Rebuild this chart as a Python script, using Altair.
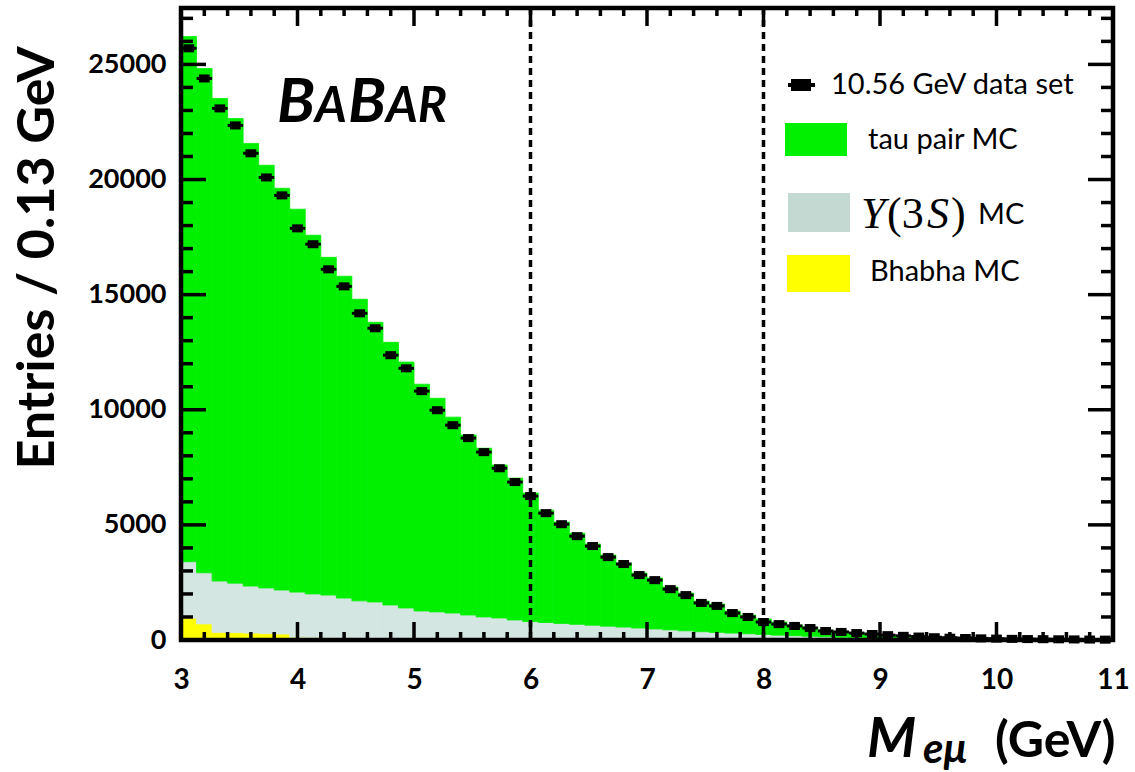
import altair as alt
import pandas as pd
import numpy as np

# ---------------- data ----------------
x_range = [3.0, 11.0]
n_bins = 60  # 0.133 GeV bins

data_counts = [25700, 24390, 23090, 22350, 21140, 20090, 19310, 17880, 17190, 16100,
               15360, 14190, 13540, 12370, 11800, 10810, 9980, 9330, 8770, 8160,
               7460, 6860, 6250, 5510, 5030, 4510, 4080, 3600, 3300, 2820,
               2600, 2210, 1950, 1610, 1480, 1170, 1000, 780, 690, 610,
               520, 390, 350, 300, 260, 210, 180, 150, 120, 100,
               85, 70, 60, 50, 40, 35, 30, 25, 20, 15]

tau_mc = [22810, 21900, 20960, 20180, 19230, 18360, 17450, 16630, 15580, 14670,
          13980, 13100, 12150, 11410, 10680, 9850, 9280, 8510, 7815, 7330,
          6645, 6160, 5580, 4880, 4400, 3960, 3530, 3090, 2780, 2390,
          2210, 1860, 1640, 1330, 1230, 960, 815, 670, 570, 465,
          400, 290, 250, 210, 185, 150, 125, 105, 83, 70,
          60, 50, 42, 36, 29, 26, 22, 19, 15, 11]

upsilon_mc = [2450, 2220, 2230, 2150, 2040, 1980, 1910, 1960, 1890, 1850,
              1730, 1615, 1570, 1445, 1320, 1195, 1160, 1115, 1035, 955,
              915, 834, 768, 730, 692, 654, 616, 578, 540, 502,
              464, 425, 386, 347, 318, 289, 260, 231, 202, 178,
              154, 134, 115, 95, 81, 66, 57, 47, 39, 33,
              28, 23, 18, 15, 12, 9, 7, 5, 4, 3]

bhabha_mc = [950, 700, 330, 320, 300, 280, 260, 120, 110, 100,
             90, 85, 80, 75, 70, 65, 60, 55, 50, 45,
             40, 36, 32, 30, 28, 26, 24, 22, 20, 18,
             16, 15, 14, 13, 12, 11, 10, 9, 8, 7,
             6, 6, 5, 5, 4, 4, 3, 3, 3, 2,
             2, 2, 2, 1, 1, 1, 1, 1, 1, 1]

x_tick_labels = [3, 4, 5, 6, 7, 8, 9, 10, 11]
y_tick_labels = [0, 5000, 10000, 15000, 20000, 25000]
x_major_ticks = [4, 5, 6, 7, 8, 9, 10]
x_minor_ticks = [round(3 + 0.2 * k, 1) for k in range(1, 40) if k % 5 != 0]
y_major_ticks = [5000, 10000, 15000, 20000, 25000]
y_minor_ticks = [1000 * k for k in range(1, 28) if k % 5 != 0]
cut_lines = [6, 8]

legend_labels = ["10.56 GeV data set", "tau pair MC", "Bhabha MC"]

# ---------------- styling ----------------
W, H = 932, 632
Y_MAX = 27450
FONT = "Lato"
GREEN = "#00f000"
GRAY = "#d4e6e1"
GRAY_LEG = "#c5d9d3"
YELLOW = "#ffff00"

edges = np.linspace(x_range[0], x_range[1], n_bins + 1)
lo, hi = edges[:-1], edges[1:]
centers = (lo + hi) / 2

rows = []
for i in range(n_bins):
    b = bhabha_mc[i]
    u = upsilon_mc[i]
    t = tau_mc[i]
    rows.append(dict(lo=lo[i], hi=hi[i], y0=0, y1=b, comp="Bhabha"))
    rows.append(dict(lo=lo[i], hi=hi[i], y0=b, y1=b + u, comp="Upsilon"))
    rows.append(dict(lo=lo[i], hi=hi[i], y0=b + u, y1=b + u + t, comp="tau"))
stack_df = pd.DataFrame(rows)
data_df = pd.DataFrame(dict(lo=lo, hi=hi, c=centers, v=data_counts))

xs = alt.Scale(domain=x_range, nice=False, zero=False)
ys = alt.Scale(domain=[0, Y_MAX], nice=False, zero=False)

X_AXIS = alt.Axis(values=x_tick_labels, format="d", title=None, grid=False,
                  ticks=False, tickSize=0, domain=False, labelFont=FONT,
                  labelFontWeight="bold", labelFontSize=28, labelColor="black",
                  labelPadding=26, labelFlush=False, labelOverlap=False)
Y_AXIS = alt.Axis(values=y_tick_labels, format="d", title=None, grid=False,
                  ticks=False, tickSize=0, domain=False, labelFont=FONT,
                  labelFontWeight="bold", labelFontSize=27, labelColor="black",
                  labelPadding=15, labelOverlap=False, labelFlush=False)


def X(field):
    return alt.X(field, scale=xs, axis=X_AXIS, title=None)


def Y(field):
    return alt.Y(field, scale=ys, axis=Y_AXIS, title=None)


comp_scale = alt.Scale(domain=["Bhabha", "Upsilon", "tau"], range=[YELLOW, GRAY, GREEN])
hist = alt.Chart(stack_df).mark_rect(strokeWidth=0.8).encode(
    x=X("lo:Q"), x2="hi:Q",
    y=Y("y0:Q"), y2="y1:Q",
    color=alt.Color("comp:N", scale=comp_scale, legend=None),
    stroke=alt.Stroke("comp:N", scale=comp_scale, legend=None),
)

err = alt.Chart(data_df).mark_rule(color="black", strokeWidth=3).encode(
    x=X("lo:Q"), x2="hi:Q", y=Y("v:Q"))
pts = alt.Chart(data_df).mark_point(
    shape="M-1,-0.75L1,-0.75L1,0.75L-1,0.75Z", filled=True, color="black",
    opacity=1, size=115).encode(x=X("c:Q"), y=Y("v:Q"))

cuts = alt.Chart(pd.DataFrame(dict(x=cut_lines))).mark_rule(
    color="black", strokeWidth=3.5, strokeDash=[7, 5]).encode(x=X("x:Q"))


def xticks(vals, length):
    df = pd.DataFrame(dict(v=vals))
    base = alt.Chart(df).mark_rule(color="black", strokeWidth=3.5)
    b = base.encode(x=X("v:Q"), y=alt.value(H), y2=alt.value(H - length))
    t = base.encode(x=X("v:Q"), y=alt.value(0), y2=alt.value(length))
    return [b, t]


def yticks(vals, length):
    df = pd.DataFrame(dict(v=vals))
    base = alt.Chart(df).mark_rule(color="black", strokeWidth=3.5)
    l = base.encode(y=Y("v:Q"), x=alt.value(0), x2=alt.value(length))
    r = base.encode(y=Y("v:Q"), x=alt.value(W), x2=alt.value(W - length))
    return [l, r]


ticks = xticks(x_major_ticks, 18) + xticks(x_minor_ticks, 8) + \
        yticks(y_major_ticks, 25) + yticks(y_minor_ticks, 12)

one = pd.DataFrame(dict(a=[0]))
frame = alt.Chart(one).mark_rect(filled=False, stroke="black", strokeWidth=4.5).encode(
    x=alt.value(0), x2=alt.value(W), y=alt.value(0), y2=alt.value(H))


def txt(s, x, y, size, weight="normal", style="normal", font=FONT, align="left",
        baseline="alphabetic", angle=0):
    kw = dict(text=s, fontSize=size, fontWeight=weight, fontStyle=style, font=font,
              align=align, baseline=baseline, color="black")
    if angle:
        kw["angle"] = angle
    return alt.Chart(one).mark_text(**kw).encode(x=alt.value(x), y=alt.value(y))


texts = [
    # y-axis title
    txt("Entries / 0.13 GeV", -143, 250, 52, weight="bold", align="center",
        baseline="middle", angle=270),
    # x-axis title
    txt("M", 686, 749, 56, weight="bold", style="italic"),
    txt("eμ", 742, 755, 42, weight="bold", style="italic"),
    txt("(GeV)", 814, 749, 50, weight="bold"),
    # BABAR logo
    txt("B", 96, 114, 62, weight="bold", style="italic"),
    txt("A", 134, 114, 49, weight="bold", style="italic"),
    txt("B", 167, 114, 62, weight="bold", style="italic"),
    txt("AR", 205, 114, 49, weight="bold", style="italic"),
    # legend texts
    txt(legend_labels[0], 650, 77, 29, baseline="middle"),
    txt(legend_labels[1], 687, 132, 29, baseline="middle"),
    txt("Υ", 680, 207, 44, style="italic", font="Liberation Serif", baseline="middle"),
    txt("(3", 706, 207, 44, font="Liberation Serif", baseline="middle"),
    txt("S", 746, 207, 44, style="italic", font="Liberation Serif", baseline="middle"),
    txt(")", 770, 207, 44, font="Liberation Serif", baseline="middle"),
    txt("MC", 797, 207, 29, baseline="middle"),
    txt(legend_labels[2], 689, 264, 29, baseline="middle"),
]


def lrect(color, x0, x1, y0, y1):
    return alt.Chart(one).mark_rect(color=color).encode(
        x=alt.value(x0), x2=alt.value(x1), y=alt.value(y0), y2=alt.value(y1))


legend = [
    alt.Chart(one).mark_rule(color="black", strokeWidth=4).encode(
        x=alt.value(607), x2=alt.value(634), y=alt.value(77)),
    alt.Chart(one).mark_point(shape="M-1,-0.6L1,-0.6L1,0.6L-1,0.6Z", filled=True,
                              color="black", opacity=1, size=400).encode(
        x=alt.value(620), y=alt.value(77)),
    lrect(GREEN, 604, 666, 115, 148),
    lrect(GRAY_LEG, 607, 669, 185, 224),
    lrect(YELLOW, 606, 669, 247, 284),
]

chart = alt.layer(hist, err, pts, cuts, *ticks, frame, *texts, *legend).properties(
    width=W, height=H,
    autosize=alt.AutoSizeParams(type="none"),
    padding={"left": 181, "top": 8, "right": 22, "bottom": 132},
).configure_view(stroke=None).configure(background="white")

chart.save("out.html", embed_options={"renderer": "svg", "actions": False})
